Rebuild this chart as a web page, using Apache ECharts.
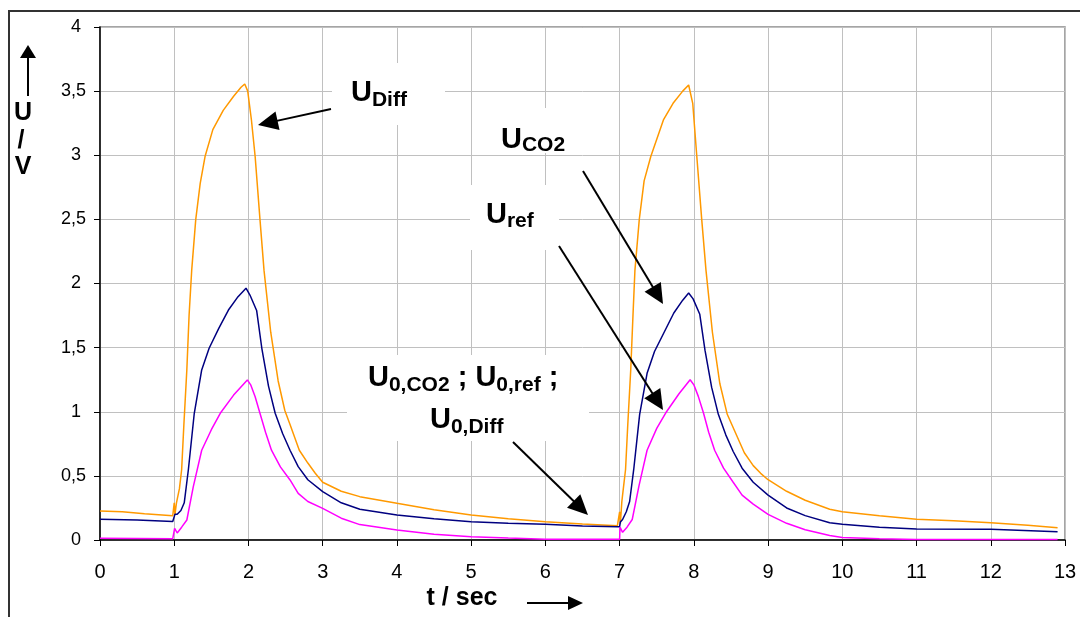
<!DOCTYPE html>
<html><head><meta charset="utf-8">
<script src="https://cdn.jsdelivr.net/npm/echarts@6/dist/echarts.min.js"></script>
<style>html,body{margin:0;padding:0;background:#fff}#c{width:1080px;height:617px}</style>
</head><body><div id="c"></div>
<script>
// ---- data ----
const xTickValues = [0,1,2,3,4,5,6,7,8,9,10,11,12,13];
const yTickValues = [0,0.5,1,1.5,2,2.5,3,3.5,4];

const diffT = [0,0.3,0.6,0.98,1.0,1.01,1.03,1.07,1.10,1.13,1.17,1.2,1.235,1.29,1.35,1.415,1.52,1.66,1.8,1.9,1.95,1.99,2.04,2.09,2.155,2.21,2.3,2.4,2.49,2.56,2.685,2.8,2.9,3.0,3.25,3.5,4.0,4.5,5.0,5.5,6.0,6.5,6.97,
  7.0,7.01,7.03,7.05,7.08,7.11,7.15,7.18,7.206,7.265,7.33,7.42,7.59,7.72,7.85,7.93,7.985,8.04,8.106,8.164,8.25,8.35,8.45,8.55,8.68,8.8,8.9,9.0,9.25,9.5,9.83,10.0,10.5,11.0,11.5,12.0,12.5,12.9];
const diffV = [0.226,0.22,0.205,0.19,0.29,0.2,0.29,0.4,0.55,0.9,1.33,1.75,2.1,2.5,2.78,2.99,3.2,3.35,3.46,3.53,3.556,3.5,3.275,2.99,2.5,2.1,1.62,1.24,1.01,0.9,0.70,0.6,0.52,0.45,0.38,0.338,0.286,0.235,0.195,0.165,0.143,0.125,0.112,
  0.22,0.13,0.3,0.4,0.55,0.9,1.33,1.75,2.1,2.5,2.8,2.99,3.275,3.405,3.5,3.548,3.405,2.99,2.5,2.1,1.62,1.22,0.98,0.85,0.68,0.58,0.52,0.47,0.38,0.31,0.24,0.22,0.19,0.161,0.15,0.135,0.115,0.096];

const co2T = [0,0.5,0.98,1.0,1.01,1.04,1.09,1.135,1.19,1.27,1.37,1.47,1.6,1.73,1.85,1.967,2.02,2.11,2.18,2.27,2.36,2.46,2.56,2.67,2.8,3.0,3.25,3.5,4.0,4.5,5.0,5.5,6.0,6.5,6.97,
  7.0,7.01,7.04,7.09,7.135,7.19,7.27,7.37,7.47,7.6,7.73,7.85,7.93,7.99,8.08,8.15,8.24,8.33,8.43,8.53,8.65,8.8,9.0,9.25,9.5,9.83,10.0,10.5,11.0,12.0,12.9];
const co2V = [0.161,0.155,0.145,0.145,0.2,0.2,0.23,0.29,0.546,0.988,1.326,1.495,1.65,1.793,1.89,1.963,1.91,1.79,1.495,1.2,0.988,0.83,0.70,0.572,0.47,0.377,0.29,0.24,0.195,0.165,0.143,0.13,0.122,0.11,0.104,
  0.104,0.14,0.16,0.22,0.3,0.55,0.98,1.3,1.47,1.62,1.77,1.87,1.926,1.88,1.76,1.48,1.19,0.98,0.82,0.69,0.56,0.45,0.35,0.25,0.19,0.135,0.122,0.1,0.086,0.083,0.065];

const refT = [0,0.98,1.0,1.005,1.04,1.1,1.17,1.257,1.37,1.5,1.62,1.8,1.985,2.03,2.09,2.155,2.23,2.31,2.43,2.56,2.67,2.8,3.0,3.25,3.5,4.0,4.5,5.0,5.5,6.0,6.97,
  7.0,7.005,7.04,7.1,7.17,7.26,7.37,7.5,7.62,7.8,7.95,8.0,8.06,8.13,8.2,8.28,8.4,8.53,8.65,8.8,9.0,9.25,9.5,9.83,10.0,10.5,11.0,12.9];
const refV = [0.013,0.01,0.01,0.09,0.055,0.1,0.156,0.416,0.70,0.86,0.988,1.13,1.248,1.21,1.117,0.988,0.84,0.70,0.57,0.468,0.364,0.30,0.247,0.17,0.12,0.078,0.045,0.026,0.015,0.006,0.005,
  0.005,0.1,0.06,0.1,0.16,0.42,0.7,0.87,0.99,1.14,1.25,1.21,1.12,0.99,0.84,0.70,0.56,0.45,0.35,0.28,0.2,0.13,0.08,0.035,0.02,0.01,0.003,0.003];

const pairs = (t, v) => t.map((x, i) => [x, v[i]]);

// ---- text helpers ----
const FONT = '"Liberation Sans", Arial, sans-serif';
const mctx = document.createElement('canvas').getContext('2d');
function measure(txt, size) { mctx.font = 'bold ' + size + 'px ' + FONT; return mctx.measureText(txt).width; }
function txt(x, baseline, s, size, align) {
  return { type: 'text', z: 20, style: { text: s, x: x, y: baseline - 0.35 * size,
    font: 'bold ' + size + 'px ' + FONT, fill: '#000',
    align: align || 'left', textAlign: align || 'left', verticalAlign: 'middle', textVerticalAlign: 'middle' } };
}
function label(x, baseline, parts) {
  const els = []; let cx = x;
  parts.forEach(p => { els.push(txt(cx, baseline + (p[2] || 0), p[0], p[1])); cx += measure(p[0], p[1]); });
  return els;
}
function arrow(x1, y1, x2, y2, hl, hw, lw) {
  const dx = x2 - x1, dy = y2 - y1, L = Math.hypot(dx, dy), ux = dx / L, uy = dy / L;
  const bx = x2 - ux * hl, by = y2 - uy * hl, px = -uy, py = ux;
  return [
    { type: 'line', z: 20, shape: { x1: x1, y1: y1, x2: bx + ux * 2, y2: by + uy * 2 }, style: { stroke: '#000', lineWidth: lw || 2 } },
    { type: 'polygon', z: 20, shape: { points: [[x2, y2], [bx + px * hw / 2, by + py * hw / 2], [bx - px * hw / 2, by - py * hw / 2]] }, style: { fill: '#000' } }
  ];
}
function box(x, y, w, h) { return { type: 'rect', z: 1, shape: { x: x, y: y, width: w, height: h }, style: { fill: '#fff' } }; }

const M = 29, S = 21;
const graphics = [].concat(
  [{ type: 'rect', z: 30, shape: { x: 9, y: 11, width: 1200, height: 800 }, style: { fill: null, stroke: '#333', lineWidth: 2 } }],
  [box(332, 63, 113, 62), box(487, 108, 116, 45), box(470, 185, 89, 65), box(347, 355, 242, 86)],
  label(351, 103, [['U', M], ['Diff', S, 5]]),
  label(501, 150, [['U', M], ['CO2', S, 3]]),
  label(486, 225, [['U', M], ['ref', S, 4]]),
  label(368, 388, [['U', M], ['0,CO2', S, 5], [' ; U', M], ['0,ref', S, 5], [' ;', M]]),
  label(430, 430, [['U', M], ['0,Diff', S, 5]]),
  arrow(331, 109, 258, 125, 20, 19),
  arrow(583, 171, 663, 304, 20, 19),
  arrow(559, 246, 663, 410, 20, 19),
  arrow(513, 442, 588, 515, 20, 19),
  [txt(23, 122, 'U', 25, 'center'), txt(21, 150, '/', 25, 'center'), txt(23, 176, 'V', 25, 'center')],
  arrow(28, 96, 28, 45, 13, 16, 2),
  [txt(462, 607, 't / sec', 25, 'center')],
  arrow(527, 603, 583, 603, 15, 14, 2)
);

const chart = echarts.init(document.getElementById('c'), null, { renderer: 'canvas' });
chart.setOption({
  animation: false,
  backgroundColor: '#fff',
  grid: { left: 100, top: 27, right: 15, bottom: 77, show: true, borderColor: '#888', borderWidth: 1.5, containLabel: false, outerBoundsMode: 'none' },
  xAxis: {
    type: 'value', min: xTickValues[0], max: xTickValues[xTickValues.length - 1], interval: 1,
    axisLine: { show: true, onZero: false, lineStyle: { color: '#000', width: 1.5 } },
    axisTick: { show: true, inside: false, length: 6, lineStyle: { color: '#000' } },
    axisLabel: { margin: 22, fontFamily: FONT, fontSize: 20, color: '#000' },
    splitLine: { show: true, lineStyle: { color: '#c0c0c0', width: 1 } }
  },
  yAxis: {
    type: 'value', min: yTickValues[0], max: yTickValues[yTickValues.length - 1], interval: 0.5,
    axisLine: { show: true, onZero: false, lineStyle: { color: '#000', width: 1.5 } },
    axisTick: { show: true, inside: false, length: 6, lineStyle: { color: '#000' } },
    axisLabel: { margin: 14, fontFamily: FONT, fontSize: 18, color: '#000',
      formatter: v => (Number.isInteger(v) ? String(v) + ' ' : String(v).replace('.', ',')) },
    splitLine: { show: true, lineStyle: { color: '#c0c0c0', width: 1 } }
  },
  series: [
    { name: 'UDiff', type: 'line', data: pairs(diffT, diffV), showSymbol: false, symbol: 'none', lineStyle: { color: '#FF9900', width: 1.5 }, z: 3 },
    { name: 'UCO2', type: 'line', data: pairs(co2T, co2V), showSymbol: false, symbol: 'none', lineStyle: { color: '#000080', width: 1.5 }, z: 3 },
    { name: 'Uref', type: 'line', data: pairs(refT, refV), showSymbol: false, symbol: 'none', lineStyle: { color: '#FF00FF', width: 1.5 }, z: 3 }
  ],
  graphic: { elements: graphics }
});
</script></body></html>
